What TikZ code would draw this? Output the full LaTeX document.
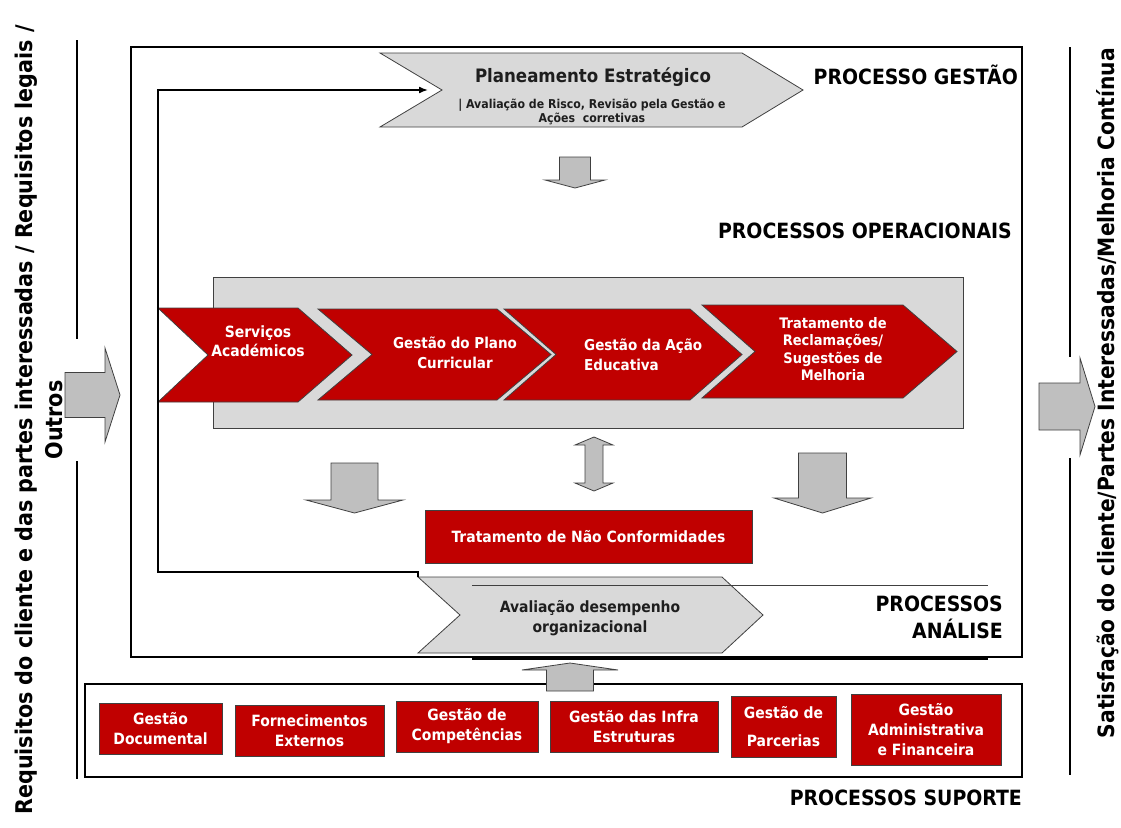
\documentclass[tikz,border=0pt]{standalone}
\usepackage{fontspec}
\setmainfont{DejaVu Sans Condensed}
\usetikzlibrary{arrows.meta}
\definecolor{myred}{RGB}{192,0,0}
\definecolor{mylightgray}{RGB}{217,217,217}
\definecolor{myarrowgray}{RGB}{191,191,191}
\definecolor{myedge}{RGB}{64,64,64}
\definecolor{mytext}{RGB}{30,30,30}
\newcommand{\fsz}[2]{\fontsize{#1}{#2}\selectfont\bfseries}
% chevron: style, x left, y top, x tip, y bottom, tip depth, notch depth
\newcommand{\chevron}[7]{%
    \draw[#1] (#2,#3) -- ({#4-#6},#3) -- (#4,{(#3+#5)/2}) -- ({#4-#6},#5)
        -- (#2,#5) -- ({#2+#7},{(#3+#5)/2}) -- cycle;}
% vertical block arrow: x centre, body half, head half, y start, y head, y tip
\newcommand{\vblock}[6]{%
    \draw[blockarrow] ({#1-#2},#4) -- ({#1+#2},#4) -- ({#1+#2},#5) -- ({#1+#3},#5)
        -- (#1,#6) -- ({#1-#3},#5) -- ({#1-#2},#5) -- cycle;}
% horizontal block arrow: y centre, body half, head half, x start, x head, x tip
\newcommand{\hblock}[6]{%
    \draw[blockarrow] (#4,{#1-#2}) -- (#4,{#1+#2}) -- (#5,{#1+#2}) -- (#5,{#1+#3})
        -- (#6,#1) -- (#5,{#1-#3}) -- (#5,{#1-#2}) -- cycle;}
\tikzset{
    common/.style={align=center, inner sep=0pt},
    heading/.style={common, anchor=east, font=\fsz{21}{27}},
    whitetext/.style={common, text=white, font=\fsz{15}{18.5}},
    darktext/.style={common, text=mytext, font=\fsz{15.5}{20}},
    redbox/.style={whitetext, draw=myedge, fill=myred, line width=0.8pt, font=\fsz{15.5}{20}},
    redchev/.style={draw=myedge, fill=myred, line width=0.8pt},
    graychev/.style={draw=myedge, fill=mylightgray, line width=0.8pt},
    blockarrow/.style={draw=myedge, fill=myarrowgray, line width=0.8pt},
    frame/.style={draw=black, line width=2pt},
    sideline/.style={draw=black, line width=2pt},
    feedback/.style={draw=black, line width=1.6pt, -{Latex[length=9pt, width=7pt]}},
    sidetext/.style={common, rotate=90, font=\fsz{23}{30}}
}
\begin{document}
\begin{tikzpicture}[x=1pt, y=-1pt]
    \useasboundingbox (0,0) rectangle (1121,827);

    % frames and side lines
    \draw[frame] (131,47) rectangle (1022,657);
    \draw[frame] (85,684) rectangle (1022,777);
    \draw[sideline] (77,40) -- (77,339) (77,461) -- (77,779);
    \draw[sideline] (1070,47) -- (1070,357) (1070,458) -- (1070,775);
    \node[sidetext] (req) at (39,420) {Requisitos do cliente e das partes interessadas / Requisitos legais /\\Outros};
    \node[sidetext, font=\fsz{22.5}{28}] (sat) at (1108,393) {Satisfação do cliente/Partes Interessadas/Melhoria Contínua};
    \hblock{395}{22.5}{47}{65}{105}{120}
    \hblock{406.5}{23.5}{48.5}{1039}{1080}{1095}

    % gestao
    \chevron{graychev}{380}{53}{803}{127}{61}{62}
    \coordinate (plan-notch) at (442,90);
    \node[common, text=mytext, font=\fsz{18.5}{22}] (plan-title) at (593,77) {Planeamento Estratégico};
    \node[common, text=mytext, font=\fsz{12.2}{14}] (plan-sub) at (592,112) {| Avaliação de Risco, Revisão pela Gestão e\\Ações\ \ corretivas};
    \node[heading] (gestao-lbl) at (1018,75) {PROCESSO GESTÃO};
    \vblock{575}{15.5}{30}{157}{180}{188}

    % operacionais
    \node[heading] (oper-lbl) at (1012,231) {PROCESSOS OPERACIONAIS};
    \node[draw=myedge, fill=mylightgray, line width=0.8pt, minimum width=750, minimum height=151] (oper-bg) at (588,352.5) {};
    \chevron{redchev}{158}{308}{352}{402}{54}{50}
    \chevron{redchev}{318}{309}{551}{400}{54}{54}
    \chevron{redchev}{504}{309}{742}{400}{52}{52}
    \chevron{redchev}{702}{305}{957}{398}{54}{53}
    \node[whitetext, font=\fsz{15.5}{18.5}] (servicos) at (258,341) {Serviços\\Académicos};
    \node[whitetext, font=\fsz{15}{20}] (plano) at (455,353) {Gestão do Plano\\Curricular};
    \node[whitetext, align=left, anchor=west, font=\fsz{15}{20}] (acao) at (584,355) {Gestão da Ação\\Educativa};
    \node[whitetext, font=\fsz{14.5}{17.5}] (reclam) at (833,349) {Tratamento de\\Reclamações/\\Sugestões de\\Melhoria};

    \vblock{354.5}{23.5}{48.5}{463}{500}{513}
    \vblock{822.5}{24}{48.5}{453}{498}{513}
    \draw[blockarrow] (585,445) -- (575,445) -- (594,437) -- (613,445) -- (603,445)
        -- (603,483) -- (613,483) -- (594,491) -- (575,483) -- (585,483) -- cycle;
    \node[redbox, minimum width=327, minimum height=53] (naoconf) at (588.5,536.5) {Tratamento de Não Conformidades};

    % analise
    \chevron{graychev}{418}{577}{763}{653}{41}{42}
    \coordinate (aval-nw) at (418,577);
    \coordinate (fb-top) at (158,90);
    \node[darktext] (aval) at (590,618) {Avaliação desempenho\\organizacional};
    \draw[myedge, line width=0.8pt] (472,585) -- (988,585);
    \draw[black, line width=1.6pt] (472,659) -- (988,659);
    \node[heading, align=right] (anal-lbl) at (1003,617) {PROCESSOS\\ANÁLISE};
    \draw[feedback] (aval-nw) -- ++(0,-5) -| (fb-top) -- ([xshift=-14pt]plan-notch);

    % suporte
    \vblock{570}{23.5}{48}{691}{670}{663}
    \node[redbox, minimum width=123, minimum height=51] (gdoc) at (160.5,728.5) {Gestão\\Documental};
    \node[redbox, minimum width=149, minimum height=51] (forn) at (309.5,730.5) {Fornecimentos\\Externos};
    \node[redbox, minimum width=142, minimum height=51] (comp) at (467,726.5) {Gestão de\\Competências};
    \node[redbox, minimum width=168, minimum height=51] (infra) at (634,726.5) {Gestão das Infra\\Estruturas};
    \node[redbox, minimum width=105, minimum height=61] (parc) at (783.5,726.5) {Gestão de\\[8pt]Parcerias};
    \node[redbox, minimum width=150, minimum height=71] (admin) at (926,729.5) {Gestão\\Administrativa\\e Financeira};
    \node[heading] (sup-lbl) at (1022,798) {PROCESSOS SUPORTE};
\end{tikzpicture}
\end{document}
